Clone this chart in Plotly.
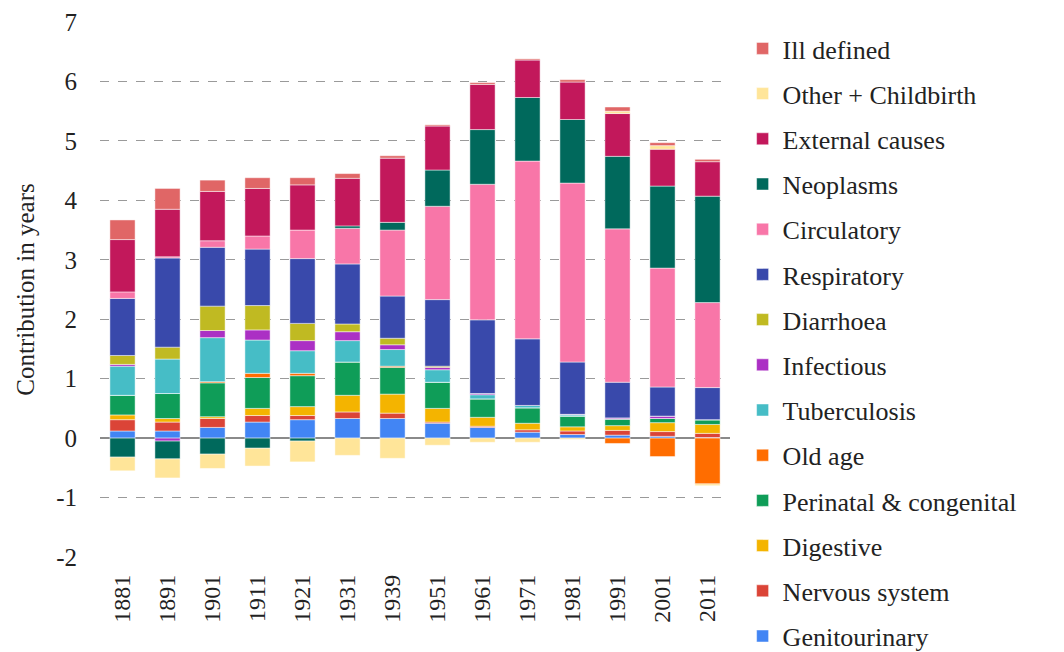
import plotly.graph_objects as go

years = ["1881", "1891", "1901", "1911", "1921", "1931", "1939", "1951",
         "1961", "1971", "1981", "1991", "2001", "2011"]

# stacking order: bottom -> top
genitourinary = [0.12, 0.12, 0.18, 0.27, 0.31, 0.33, 0.33, 0.25, 0.18, 0.10, 0.06, 0.05, 0.03, 0.01]
nervous = [0.19, 0.15, 0.15, 0.11, 0.07, 0.11, 0.09, 0.02, 0.02, 0.04, 0.06, 0.08, 0.08, 0.07]
digestive = [0.08, 0.06, 0.03, 0.12, 0.15, 0.28, 0.32, 0.23, 0.15, 0.11, 0.07, 0.08, 0.15, 0.15]
perinatal = [0.33, 0.42, 0.57, 0.52, 0.52, 0.56, 0.45, 0.44, 0.31, 0.26, 0.18, 0.11, 0.07, 0.08]
old_age = [0.0, 0.0, 0.02, 0.07, 0.04, 0.0, 0.02, 0.0, 0.0, 0.0, 0.0, -0.09, -0.31, -0.77]
tuberculosis = [0.49, 0.58, 0.74, 0.56, 0.38, 0.36, 0.28, 0.21, 0.07, 0.04, 0.02, 0.0, 0.0, 0.0]
infectious = [0.03, -0.05, 0.12, 0.17, 0.17, 0.15, 0.08, 0.04, 0.02, 0.0, 0.01, 0.02, 0.04, 0.0]
diarrhoea = [0.15, 0.20, 0.41, 0.41, 0.29, 0.13, 0.11, 0.02, 0.0, 0.0, 0.0, 0.0, 0.0, 0.0]
respiratory = [0.96, 1.50, 0.99, 0.95, 1.09, 1.01, 0.71, 1.12, 1.24, 1.12, 0.88, 0.60, 0.49, 0.54]
circulatory = [0.11, 0.02, 0.11, 0.22, 0.48, 0.60, 1.11, 1.57, 2.28, 2.99, 3.01, 2.58, 2.00, 1.43]
neoplasms = [-0.32, -0.30, -0.27, -0.17, -0.05, 0.04, 0.13, 0.61, 0.92, 1.07, 1.07, 1.22, 1.38, 1.79]
external = [0.88, 0.80, 0.83, 0.80, 0.76, 0.80, 1.08, 0.74, 0.76, 0.63, 0.63, 0.72, 0.62, 0.58]
other_childbirth = [-0.23, -0.32, -0.24, -0.30, -0.35, -0.29, -0.34, -0.12, -0.07, -0.07, -0.02, 0.04, 0.06, -0.03]
ill_defined = [0.33, 0.35, 0.19, 0.18, 0.12, 0.08, 0.04, 0.02, 0.03, 0.02, 0.04, 0.07, 0.05, 0.04]

y_tick_values = [-2, -1, 0, 1, 2, 3, 4, 5, 6, 7]
y_tick_labels = ["-2", "-1", "0", "1", "2", "3", "4", "5", "6", "7"]

series = [
    ("Genitourinary", genitourinary, "#4285F4"),
    ("Nervous system", nervous, "#DB4437"),
    ("Digestive", digestive, "#F4B400"),
    ("Perinatal & congenital", perinatal, "#0F9D58"),
    ("Old age", old_age, "#FF6D00"),
    ("Tuberculosis", tuberculosis, "#46BDC6"),
    ("Infectious", infectious, "#AB30C4"),
    ("Diarrhoea", diarrhoea, "#C0BA22"),
    ("Respiratory", respiratory, "#3949AB"),
    ("Circulatory", circulatory, "#F876A8"),
    ("Neoplasms", neoplasms, "#00695C"),
    ("External causes", external, "#C2185B"),
    ("Other + Childbirth", other_childbirth, "#FFE599"),
    ("Ill defined", ill_defined, "#E06666"),
]

FONT = "Liberation Serif, Times New Roman, serif"
W, H = 1064, 652
PLOT_TOP, PLOT_BOTTOM = 22, 557

fig = go.Figure()
n = len(series)
for i, (name, vals, col) in enumerate(series):
    fig.add_trace(go.Bar(
        x=years, y=vals, name=name, legendgroup=name, legendrank=n - i,
        marker=dict(color=col, line=dict(color="rgba(255,255,255,0.6)", width=0.8)),
    ))

fig.update_layout(
    barmode="relative",
    bargap=0.44,
    width=W, height=H,
    margin=dict(l=100, r=334, t=0, b=0, autoexpand=False),
    plot_bgcolor="white", paper_bgcolor="white",
    font=dict(family=FONT, size=25, color="#222"),
    legend=dict(
        traceorder="grouped", tracegroupgap=8.4,
        x=1.02, xanchor="left", y=1 - 25 / H, yanchor="top",
        font=dict(family=FONT, size=26, color="#222"),
        itemwidth=30,
    ),
    showlegend=True,
)
fig.update_xaxes(
    type="category", tickangle=-90, showgrid=False, showline=False,
    ticks="", ticklabelstandoff=12, automargin=False,
    tickfont=dict(family=FONT, size=24, color="#222"),
)
fig.update_yaxes(
    domain=[(H - PLOT_BOTTOM) / H, (H - PLOT_TOP) / H],
    range=[-2, 7], tickvals=y_tick_values, ticktext=y_tick_labels,
    showgrid=True, gridcolor="#9a9a9a", griddash="dash",
    gridwidth=1, zeroline=True, zerolinecolor="#8a8a8a", zerolinewidth=2,
    showline=False, ticks="", ticklabelstandoff=22, automargin=False,
    tickfont=dict(family=FONT, size=25, color="#222"),
    title=dict(text="Contribution in years", font=dict(family=FONT, size=25, color="#222"), standoff=14),
)

fig.write_html("out.html", config={"displayModeBar": False},
               post_script="document.body.style.margin='0px';")
